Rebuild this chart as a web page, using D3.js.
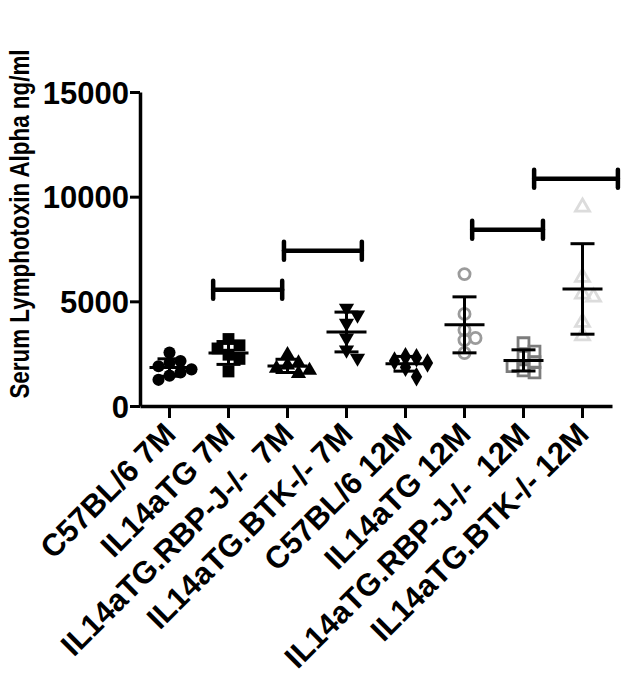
<!DOCTYPE html>
<html>
<head>
<meta charset="utf-8">
<script src="https://cdn.jsdelivr.net/npm/d3@7"></script>
<style>
  html, body { margin: 0; padding: 0; background: #fff; }
  text { font-family: "Liberation Sans", Arial, Helvetica, sans-serif; font-weight: bold; }
</style>
</head>
<body>
<svg id="chart" width="632" height="683"></svg>
<script>
// ---- data ----
const categories = [
  "C57BL/6 7M",
  "IL14aTG 7M",
  "IL14aTG.RBP-J-/-  7M",
  "IL14aTG.BTK-/- 7M",
  "C57BL/6 12M",
  "IL14aTG 12M",
  "IL14aTG.RBP-J-/-  12M",
  "IL14aTG.BTK-/- 12M"
];
const valuesC57_7 = [2550, 2150, 2050, 1900, 1750, 1600, 1450, 1250];
const valuesTG_7 = [3200, 2900, 2750, 2450, 2250, 1650];
const valuesRBP_7 = [2450, 2050, 1950, 1800, 1700, 1550];
const valuesBTK_7 = [4680, 4350, 3960, 3250, 2680, 2290];
const valuesC57_12 = [2350, 2300, 2150, 2050, 1850, 1400];
const valuesTG_12 = [6300, 4400, 3630, 3250, 3150, 2530];
const valuesRBP_12 = [3000, 2600, 2350, 2100, 1900, 1700, 1600];
const valuesBTK_12 = [9500, 6150, 5350, 5200, 4000, 3350];
const seriesValues = [valuesC57_7, valuesTG_7, valuesRBP_7, valuesBTK_7,
                      valuesC57_12, valuesTG_12, valuesRBP_12, valuesBTK_12];
const markerShapes = ["circle", "square", "triangleUp", "triangleDown", "diamond", "circle", "square", "triangleUp"];
const markerColors = ["#000", "#000", "#000", "#000", "#000", "#9b9b9b", "#7c7c7c", "#dcdcdc"];
const markerFilled = [true, true, true, true, true, false, false, false];
const yTickValues = [0, 5000, 10000, 15000];
const yTitle = "Serum Lymphotoxin Alpha ng/ml";
// significance brackets: [from category position, to category position, value]
const brackets = [
  [0.74, 1.91, 5550],
  [1.94, 3.26, 7420],
  [5.13, 6.33, 8420],
  [6.18, 7.60, 10860]
];

// ---- layout ----
const svg = d3.select("#chart");
const mLeft = 140, mRight = 612, mTop = 92, mBottom = 406;

const x = d3.scaleBand().domain(categories).range([mLeft, mRight]).padding(0);
const y = d3.scaleLinear().domain([0, 15000]).range([mBottom, mTop]);
const xPos = f => mLeft + x.step() * (f + 0.5);

// y axis
const gy = svg.append("g").attr("transform", `translate(${mLeft},0)`)
  .call(d3.axisLeft(y).tickValues(yTickValues).tickFormat(d3.format("d"))
    .tickSize(10).tickSizeOuter(0).tickPadding(1));
gy.select(".domain").attr("stroke-width", 3.5).attr("stroke", "#000");
gy.selectAll(".tick line").attr("stroke-width", 3).attr("stroke", "#000");
gy.selectAll(".tick text").attr("font-size", 31).attr("fill", "#000")
  .attr("font-family", "Liberation Sans, Arial, sans-serif").attr("font-weight", "bold")
  .attr("dy", "0.36em");

// x axis
const gx = svg.append("g").attr("transform", `translate(0,${mBottom})`)
  .call(d3.axisBottom(x).tickSize(12).tickSizeOuter(0).tickPadding(2));
gx.select(".domain").attr("stroke-width", 3.5).attr("stroke", "#000");
gx.selectAll(".tick line").attr("stroke-width", 3).attr("stroke", "#000");
gx.selectAll(".tick text")
  .attr("font-size", 31).attr("fill", "#000")
  .attr("font-family", "Liberation Sans, Arial, sans-serif").attr("font-weight", "bold")
  .style("white-space", "pre")
  .attr("text-anchor", "end")
  .attr("y", 0)
  .attr("dy", 0)
  .attr("transform", "translate(8,30) rotate(-45)");

// y title
svg.append("text")
  .attr("transform", `translate(29,${224}) rotate(-90) scale(0.8,1)`)
  .attr("text-anchor", "middle")
  .attr("font-size", 28)
  .attr("fill", "#000")
  .text(yTitle);

// symbol helper
function symbolPath(shape, size) {
  if (shape === "circle") return d3.symbol(d3.symbolCircle, size)();
  if (shape === "square") return d3.symbol(d3.symbolSquare, size)();
  if (shape === "diamond") return d3.symbol(d3.symbolDiamond, size)();
  return d3.symbol(d3.symbolTriangle, size)();
}
const shapeSize = { circle: 115, square: 140, triangleUp: 100, triangleDown: 100, diamond: 110 };

// points (compact scatter layout)
seriesValues.forEach((vals, gi) => {
  const cx = x(categories[gi]) + x.bandwidth() / 2;
  const placed = [];
  const sorted = vals.slice().sort((a, b) => b - a);
  const minD = 10, step = 11;
  sorted.forEach(v => {
    const py = y(v);
    let best = 0, bestD = -1;
    for (let k = 0; k < 5; k++) {
      const cand = k === 0 ? 0 : (k % 2 === 1 ? 1 : -1) * Math.ceil(k / 2) * step;
      const dmin = placed.length ? d3.min(placed, p => Math.hypot(p.x - (cx + cand), p.y - py)) : Infinity;
      if (dmin >= minD) { best = cand; bestD = dmin; break; }
      if (dmin > bestD) { bestD = dmin; best = cand; }
    }
    placed.push({ x: cx + best, y: py, v });
  });
  const shape = markerShapes[gi];
  const g = svg.append("g");
  g.selectAll("path").data(placed).enter().append("path")
    .attr("d", symbolPath(shape, shapeSize[shape] * (markerFilled[gi] ? 1 : 0.85)))
    .attr("transform", d => `translate(${d.x},${d.y})${shape === "triangleDown" ? " rotate(180)" : ""}`)
    .attr("fill", markerFilled[gi] ? markerColors[gi] : "none")
    .attr("stroke", markerColors[gi])
    .attr("stroke-width", markerFilled[gi] ? 0 : 2.8);

  // mean and SD
  const mean = d3.mean(vals), sd = d3.deviation(vals);
  const eg = svg.append("g").attr("stroke", "#000").attr("stroke-width", 3);
  eg.append("line").attr("x1", cx - 20).attr("x2", cx + 20).attr("y1", y(mean)).attr("y2", y(mean));
  eg.append("line").attr("x1", cx).attr("x2", cx).attr("y1", y(mean + sd)).attr("y2", y(mean - sd));
  eg.append("line").attr("x1", cx - 12).attr("x2", cx + 12).attr("y1", y(mean + sd)).attr("y2", y(mean + sd));
  eg.append("line").attr("x1", cx - 12).attr("x2", cx + 12).attr("y1", y(mean - sd)).attr("y2", y(mean - sd));
});

// brackets
const bg = svg.append("g").attr("stroke", "#000").attr("stroke-width", 4.5).attr("stroke-linecap", "round");
brackets.forEach(([a, b, v]) => {
  const x1 = xPos(a), x2 = xPos(b), yy = y(v);
  bg.append("line").attr("x1", x1).attr("x2", x2).attr("y1", yy).attr("y2", yy);
  bg.append("line").attr("x1", x1).attr("x2", x1).attr("y1", yy - 9).attr("y2", yy + 9);
  bg.append("line").attr("x1", x2).attr("x2", x2).attr("y1", yy - 9).attr("y2", yy + 9);
});
</script>
</body>
</html>
